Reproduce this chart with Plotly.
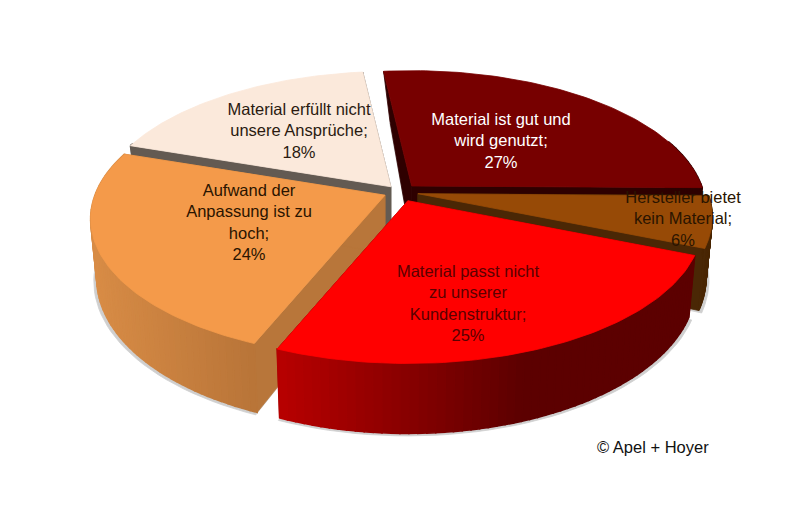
import math
import plotly.graph_objects as go

# values of the pie, clockwise from the start angle
labels = ["Material ist gut und<br>wird genutzt;<br>27%",
          "Hersteller bietet<br>kein Material;<br>6%",
          "Material passt nicht<br>zu unserer<br>Kundenstruktur;<br>25%",
          "Aufwand der<br>Anpassung ist zu<br>hoch;<br>24%",
          "Material erfüllt nicht<br>unsere Ansprüche;<br>18%"]
shares = [27, 6, 25, 24, 18]

# styles
top_colors = ["#770000", "#974a06", "#ff0000", "#f49a4a", "#fbe9db"]
wall_colors = ["#2e0000", "#4a2705", "#600000", "#b8763a", "#635a52"]
# side colour at the left and right end of the visible rim
side_left = [(46, 0, 0), (74, 39, 5), (184, 0, 0), (216, 140, 70), (99, 90, 82)]
side_right = [(46, 0, 0), (74, 39, 5), (92, 0, 0), (184, 116, 56), (99, 90, 82)]
text_colors = ["#ffffff", "#2a1400", "#5a0000", "#2a1400", "#2a1a10"]
pull = [0.06, 0.063, 0.07, 0.057, 0.05]
label_x = [501, 683, 468, 249, 299]
label_y = [142, 220, 305, 224, 132]
draw_order = [4, 0, 1, 3, 2]

start_angle = -6.5
CX, CY = 400, 192
RX, RY = 290, 135
PERSP = 0.1706
DEPTH = 58
# the page body has an 8px margin, so the axes are moved to keep pixels equal
PAGE_MARGIN = 8


def top_point(angle, i):
    # rim point of slice i on the top face, with simple perspective
    mid = mids[i]
    xx = math.sin(math.radians(angle))
    yy = math.cos(math.radians(angle))
    s = 1 / (1 + PERSP * yy)
    ox = RX * math.sin(math.radians(mid)) * pull[i]
    oy = -RY * math.cos(math.radians(mid)) * pull[i]
    return CX + RX * xx * s + ox, CY - RY * yy * s + oy, s, yy


def bottom_point(angle, i):
    x, y, s, yy = top_point(angle, i)
    return CX + (x - CX) * 0.98 + 6 * max(yy, 0), y + DEPTH * s


def apex(i):
    ox = RX * math.sin(math.radians(mids[i])) * pull[i]
    oy = -RY * math.cos(math.radians(mids[i])) * pull[i]
    return CX + ox, CY + oy


def poly(fig, xs, ys, color, width=0.8):
    fig.add_trace(go.Scatter(x=xs + xs[:1], y=ys + ys[:1], mode="lines", fill="toself",
                             fillcolor=color, line=dict(color=color, width=width),
                             hoverinfo="skip"))


# angle limits from the shares
angles = [start_angle]
for v in shares:
    angles.append(angles[-1] + v / sum(shares) * 360)
mids = [(angles[i] + angles[i + 1]) / 2 for i in range(len(shares))]

fig = go.Figure()

# soft shadow under the bottom rim
for i in draw_order:
    steps = [angles[i] + (angles[i + 1] - angles[i]) * k / 40 for k in range(41)]
    ax, ay = apex(i)
    pts = [bottom_point(a, i) for a in steps]
    xs = [ax] + [CX + (p[0] - CX) * 1.01 for p in pts]
    ys = [ay + DEPTH] + [p[1] + 2.5 for p in pts]
    poly(fig, xs, ys, "#cfcfcf")

for i in draw_order:
    a0, a1 = angles[i], angles[i + 1]
    ax, ay = apex(i)

    # the two straight walls
    for a in (a0, a1):
        x, y, s, yy = top_point(a, i)
        bx, by = bottom_point(a, i)
        poly(fig, [x, ax, ax, bx], [y, ay, ay + DEPTH, by], wall_colors[i])

    # outer side, one small quad per colour step
    n = 60
    steps = [a0 + (a1 - a0) * k / n for k in range(n + 1)]
    front = [a for a in steps if math.cos(math.radians(a)) < 0.35]
    if len(front) > 1:
        xs_all = [top_point(a, i)[0] for a in front]
        lo, hi = min(xs_all), max(xs_all)
        for k in range(len(front) - 1):
            p0 = top_point(front[k], i)
            p1 = top_point(front[k + 1], i)
            b0 = bottom_point(front[k], i)
            b1 = bottom_point(front[k + 1], i)
            t = ((p0[0] + p1[0]) / 2 - lo) / max(hi - lo, 1)
            if i == 2:
                t = min(t * 1.7, 1)
            c = [round(side_left[i][j] + (side_right[i][j] - side_left[i][j]) * t) for j in range(3)]
            poly(fig, [p0[0], p1[0], b1[0], b0[0]], [p0[1], p1[1], b1[1], b0[1]],
                 "rgb(%d,%d,%d)" % tuple(c), width=1.6)

    # top face
    steps = [a0 + (a1 - a0) * k / 80 for k in range(81)]
    pts = [top_point(a, i) for a in steps]
    poly(fig, [ax] + [p[0] for p in pts], [ay] + [p[1] for p in pts], top_colors[i])

fig.add_trace(go.Scatter(x=label_x, y=label_y, mode="text", text=labels,
                         textposition="middle center",
                         textfont=dict(family="Liberation Sans", size=16.5, color=text_colors),
                         hoverinfo="skip"))
fig.add_annotation(x=653, y=447, text="© Apel + Hoyer", showarrow=False,
                   font=dict(family="Liberation Sans", size=16.5, color="#111111"))

fig.update_layout(width=800, height=523, margin=dict(l=0, r=0, t=0, b=0),
                  paper_bgcolor="white", plot_bgcolor="white", showlegend=False,
                  xaxis=dict(range=[PAGE_MARGIN, 800 + PAGE_MARGIN], visible=False, fixedrange=True),
                  yaxis=dict(range=[523 + PAGE_MARGIN, PAGE_MARGIN], visible=False, fixedrange=True))
fig.write_html("out.html", config={"displayModeBar": False})
